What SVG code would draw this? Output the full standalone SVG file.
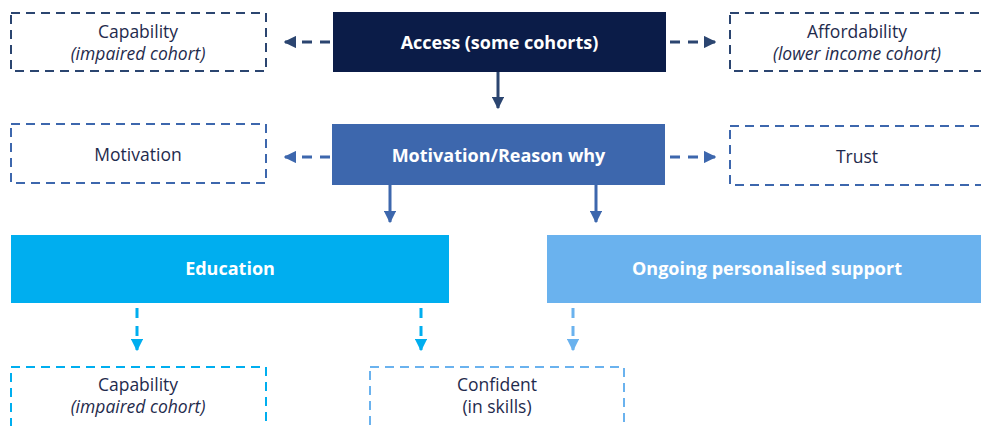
<svg xmlns="http://www.w3.org/2000/svg" width="981" height="426" viewBox="0 0 981 426">
  <defs>
    <style>
      text { font-family: "Open Sans", Lato, "Liberation Sans", sans-serif; text-anchor: middle; }
      .lbl { font-size: 17.5px; fill: #1f2b4d; }
      .it { font-style: italic; }
      .hd { font-size: 18px; font-weight: bold; fill: #ffffff; }
      .dash { fill: #ffffff; stroke-width: 2; stroke-dasharray: 9 6; }
      .conn { fill: none; stroke-width: 3; }
      .dconn { fill: none; stroke-width: 3; stroke-dasharray: 10 8; }
    </style>
    <marker id="hNavy" viewBox="0 0 10 10" refX="9" refY="5" markerWidth="4.2" markerHeight="4.2" orient="auto" markerUnits="strokeWidth">
      <path d="M0,0 L10,5 L0,10 z" fill="#2b4570"/>
    </marker>
    <marker id="hMid" viewBox="0 0 10 10" refX="9" refY="5" markerWidth="4.2" markerHeight="4.2" orient="auto" markerUnits="strokeWidth">
      <path d="M0,0 L10,5 L0,10 z" fill="#3d67ad"/>
    </marker>
    <marker id="hCyan" viewBox="0 0 10 10" refX="9" refY="5" markerWidth="4.2" markerHeight="4.2" orient="auto" markerUnits="strokeWidth">
      <path d="M0,0 L10,5 L0,10 z" fill="#00aeef"/>
    </marker>
    <marker id="hSky" viewBox="0 0 10 10" refX="9" refY="5" markerWidth="4.2" markerHeight="4.2" orient="auto" markerUnits="strokeWidth">
      <path d="M0,0 L10,5 L0,10 z" fill="#6ab2ee"/>
    </marker>
  </defs>

  <rect width="981" height="426" fill="#ffffff"/>

  <!-- connectors -->
  <g id="connectors">
    <path class="dconn" d="M330,42 L285,42" stroke="#2b4570" marker-end="url(#hNavy)"/>
    <path class="dconn" d="M670,42 L715,42" stroke="#2b4570" marker-end="url(#hNavy)"/>
    <path class="conn" d="M498,67 L498,108" stroke="#2b4570" marker-end="url(#hNavy)"/>
    <path class="dconn" d="M330,157 L285,157" stroke="#3d67ad" marker-end="url(#hMid)"/>
    <path class="dconn" d="M670,157 L715,157" stroke="#3d67ad" marker-end="url(#hMid)"/>
    <path class="conn" d="M390,185 L390,222" stroke="#3d67ad" marker-end="url(#hMid)"/>
    <path class="conn" d="M596,185 L596,222" stroke="#3d67ad" marker-end="url(#hMid)"/>
    <path class="dconn" d="M137,308 L137,350" stroke="#00aeef" marker-end="url(#hCyan)"/>
    <path class="dconn" d="M421,308 L421,350" stroke="#00aeef" marker-end="url(#hCyan)"/>
    <path class="dconn" d="M573,308 L573,350" stroke="#6ab2ee" marker-end="url(#hSky)"/>
  </g>

  <g id="access">
    <rect x="333" y="12" width="333" height="60" fill="#0b1c48"/>
    <text class="hd" x="499.5" y="49">Access (some cohorts)</text>
  </g>

  <g id="capability-top">
    <rect class="dash" x="11" y="13" width="255" height="58" stroke="#2b4570"/>
    <text class="lbl" x="138" y="38">Capability<tspan class="it" x="138" dy="22">(impaired cohort)</tspan></text>
  </g>

  <g id="affordability">
    <rect class="dash" x="730" y="13" width="255" height="58" stroke="#2b4570"/>
    <text class="lbl" x="857" y="38">Affordability<tspan class="it" x="857" dy="22">(lower income cohort)</tspan></text>
  </g>

  <g id="motivation-reason">
    <rect x="332" y="124" width="333" height="61" fill="#3d67ad"/>
    <text class="hd" x="498.5" y="162">Motivation/Reason why</text>
  </g>

  <g id="motivation">
    <rect class="dash" x="11" y="124" width="255" height="59" stroke="#3d67ad"/>
    <text class="lbl" x="138" y="160.5">Motivation</text>
  </g>

  <g id="trust">
    <rect class="dash" x="730" y="126" width="255" height="59" stroke="#3d67ad"/>
    <text class="lbl" x="857" y="162.5">Trust</text>
  </g>

  <g id="education">
    <rect x="11" y="235" width="438" height="68" fill="#00aeef"/>
    <text class="hd" x="230" y="275">Education</text>
  </g>

  <g id="ongoing-support">
    <rect x="547" y="235" width="434" height="68" fill="#6ab2ee"/>
    <text class="hd" x="767" y="275">Ongoing personalised support</text>
  </g>

  <g id="capability-bottom">
    <rect class="dash" x="11" y="367" width="255" height="60" stroke="#00aeef"/>
    <text class="lbl" x="138" y="391">Capability<tspan class="it" x="138" dy="22">(impaired cohort)</tspan></text>
  </g>

  <g id="confident">
    <rect class="dash" x="370" y="367" width="254" height="60" stroke="#6ab2ee"/>
    <text class="lbl" x="497" y="391">Confident<tspan x="497" dy="22">(in skills)</tspan></text>
  </g>
</svg>
